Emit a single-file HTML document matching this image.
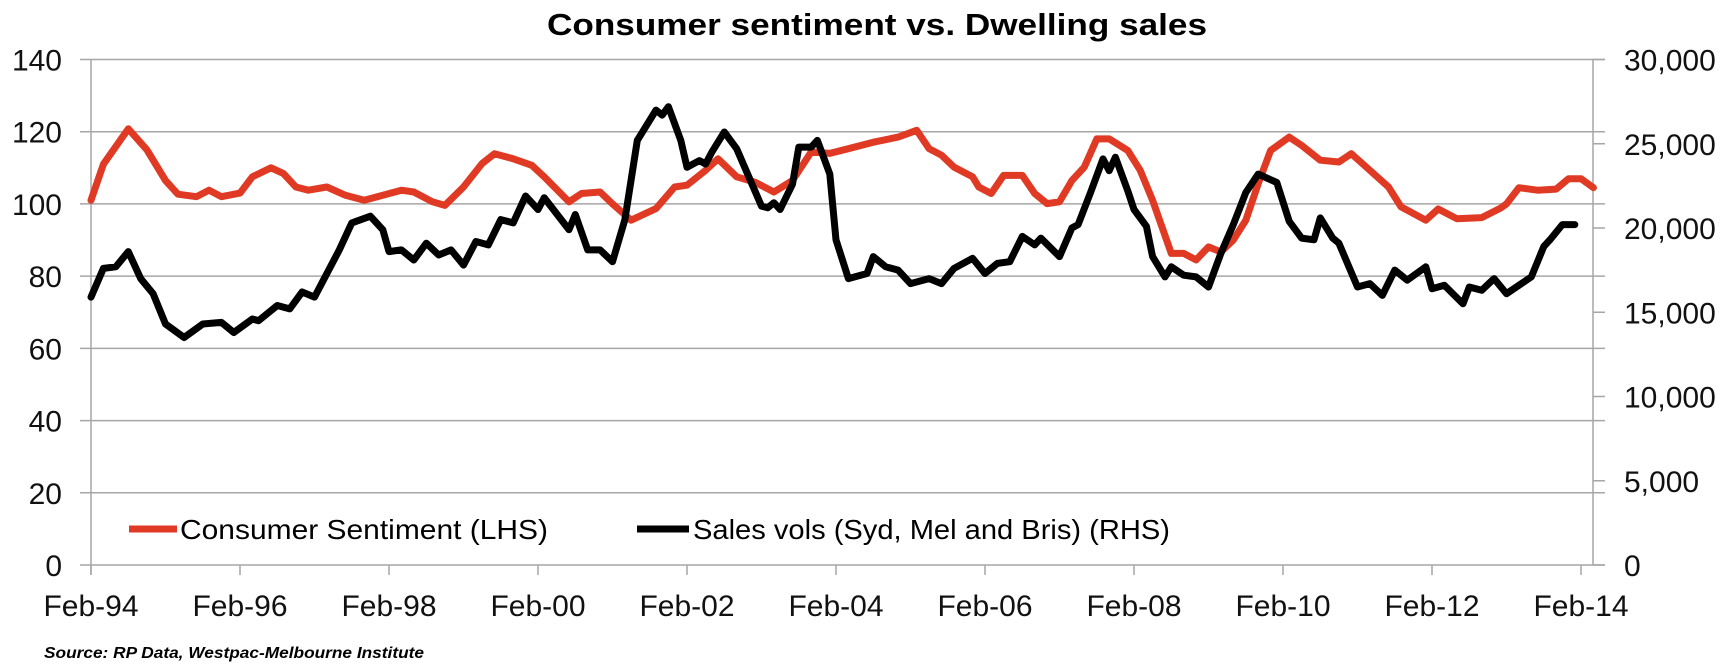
<!DOCTYPE html>
<html><head><meta charset="utf-8"><style>
html,body{margin:0;padding:0;background:#fff;}
svg{display:block;font-family:"Liberation Sans",sans-serif;}
</style></head><body>
<svg id="chart" width="1728" height="666" viewBox="0 0 1728 666" xmlns="http://www.w3.org/2000/svg">
<text x="877" y="35" text-anchor="middle" font-size="31" font-weight="bold" textLength="660" lengthAdjust="spacingAndGlyphs">Consumer sentiment vs. Dwelling sales</text>
<g id="grid"></g>
<g id="axes"></g>
<g id="series"></g>
<g>
<line x1="129" y1="529" x2="177" y2="529" stroke="#e03a25" stroke-width="7"/>
<text x="180" y="539" font-size="28" textLength="368" lengthAdjust="spacingAndGlyphs">Consumer Sentiment (LHS)</text>
<line x1="637" y1="529" x2="689" y2="529" stroke="#000" stroke-width="7"/>
<text x="693" y="539" font-size="28" textLength="477" lengthAdjust="spacingAndGlyphs">Sales vols (Syd, Mel and Bris) (RHS)</text>
</g>
<text x="44" y="658" font-size="16" font-weight="bold" font-style="italic" textLength="380" lengthAdjust="spacingAndGlyphs">Source:  RP Data, Westpac-Melbourne Institute</text>
</svg>
<script>
const xTickLabels = ["Feb-94","Feb-96","Feb-98","Feb-00","Feb-02","Feb-04","Feb-06","Feb-08","Feb-10","Feb-12","Feb-14"];
const leftTicks = [0,20,40,60,80,100,120,140];
const rightTicks = ["0","5,000","10,000","15,000","20,000","25,000","30,000"];
// months since Feb-94
const sentMonths = [0,2,6,9,12,14,17,19,21,24,26,29,31,33,35,38,41,44,47,50,52,55,57,60,63,65,68,71,73,77,79,82,84,87,91,94,96,99,101,104,107,110,113,116,119,122,126,130,133,135,137,139,142,143,145,147,150,152,154,156,158,160,162,164,167,169,171,174,176,178,180,182,184,186,188,190,193,195,198,201,203,206,209,211,215,217,220,224,227,228,230,233,236,238,240,242];
const sentValues = [101,111,120.8,115,106.5,102.7,102,103.8,102,103,107.5,110,108.4,104.7,103.8,104.7,102.4,101,102.4,103.8,103.3,100.6,99.6,104.7,111.2,113.9,112.5,110.7,107.5,100.6,102.9,103.3,100,95.5,98.7,104.7,105.2,109.3,112.5,107.5,106,103.3,106.5,114.4,114,115.3,117.1,118.5,120.4,115.3,113.5,110.2,107.5,104.7,102.9,107.9,107.9,102.9,100.1,100.6,106.5,110.2,118,118,114.8,109.3,101,86.3,86.3,84.5,88.1,86.7,90,95.5,105.6,114.8,118.5,116.2,112.1,111.6,113.9,109.3,104.7,99.2,95.5,98.6,95.9,96.2,98.8,100,104.5,103.8,104.1,107,107,104.5];
const salesMonths = [0,2,4,6,8,10,12,15,18,21,23,26,27,30,32,34,36,38,40,42,45,47,48,50,52,54,56,58,60,62,64,66,68,70,72,73,77,78,80,82,84,86,88,91,92,93,95,96,98,99,100,102,104,108,109,110,111,113,114,116,117,119,120,122,125,126,128,130,132,135,137,139,142,144,146,148,150,152,153,156,158,159,161,163,164,165,167,168,170,171,173,174,176,178,180,182,184,186,188,191,193,195,197,198,200,201,204,206,208,210,212,215,216,218,221,222,224,226,228,230,232,234,235,237,239];
const salesValues = [15900,17600,17700,18600,17000,16100,14300,13500,14300,14400,13800,14600,14500,15400,15200,16200,15900,17300,18700,20300,20700,19900,18600,18700,18100,19100,18400,18700,17800,19200,19000,20500,20300,21900,21100,21800,19900,20800,18700,18700,18000,20500,25200,27000,26700,27200,25200,23600,24000,23800,24500,25700,24700,21300,21200,21500,21100,22600,24800,24800,25200,23200,19300,17000,17300,18300,17700,17500,16700,17000,16700,17600,18200,17300,17900,18000,19500,19000,19400,18300,20000,20200,22100,24100,23400,24200,22200,21100,20100,18300,17100,17700,17200,17100,16500,18500,20200,22100,23200,22700,20400,19400,19300,20600,19400,19100,16500,16700,16000,17500,16900,17700,16400,16600,15500,16500,16300,17000,16100,16600,17100,18900,19300,20200,20200];

const NS = "http://www.w3.org/2000/svg";
const X0 = 91, X1 = 1581, PL = 91, PR = 1593, YT = 59.5, YB = 565;
const xScale = m => X0 + (X1 - X0) * m / 240;
const yLeft = v => YB - (YB - YT) * v / 140;
const yRight = v => YB - (YB - YT) * v / 30000;
function mk(tag, attrs, parent){const e=document.createElementNS(NS,tag);for(const k in attrs)e.setAttribute(k,attrs[k]);parent.appendChild(e);return e;}
const grid=document.getElementById('grid'), axes=document.getElementById('axes'), series=document.getElementById('series');

leftTicks.forEach(v=>{
  const y=yLeft(v);
  const g=mk('line',{x1:80,x2:PR+12,y1:y,y2:y,stroke:'#a6a6a6','stroke-width':1.5},grid);
  
  
  const t=mk('text',{x:62,y:y+11,'text-anchor':'end','font-size':30,fill:'#111'},axes);
  t.textContent=String(v);
  
  
});
rightTicks.forEach((s,i)=>{
  const y=yRight(i*5000);
  const tk=mk('line',{x1:PR,x2:PR+12,y1:y,y2:y,stroke:'#a6a6a6','stroke-width':1.5},axes);
  
  
  const t=mk('text',{x:1624,y:y+11,'font-size':30,fill:'#111'},axes);
  t.textContent=s;
  
  
});
const la=mk('line',{x1:PL,x2:PL,y1:YT,y2:YB+10,stroke:'#a6a6a6','stroke-width':1.5},axes);


const ra=mk('line',{x1:PR,x2:PR,y1:YT,y2:YB,stroke:'#a6a6a6','stroke-width':1.5},axes);


xTickLabels.forEach((s,i)=>{
  const x=xScale(i*24);
  const tk=mk('line',{x1:x,x2:x,y1:YB,y2:YB+10,stroke:'#a6a6a6','stroke-width':1.5},axes);
  
  
  const t=mk('text',{x:x,y:616,'text-anchor':'middle','font-size':30,fill:'#111'},axes);
  t.textContent=s;
  
  
});
function pts(ms,vs,sc){return ms.map((m,i)=>xScale(m).toFixed(1)+','+sc(vs[i]).toFixed(1)).join(' ');}
const redLine=mk('polyline',{points:pts(sentMonths,sentValues,yLeft),fill:'none',stroke:'#e03a25','stroke-width':7,'stroke-linejoin':'round','stroke-linecap':'round'},series);


const blackLine=mk('polyline',{points:pts(salesMonths,salesValues,yRight),fill:'none',stroke:'#000','stroke-width':7,'stroke-linejoin':'round','stroke-linecap':'round'},series);


</script>
</body></html>
